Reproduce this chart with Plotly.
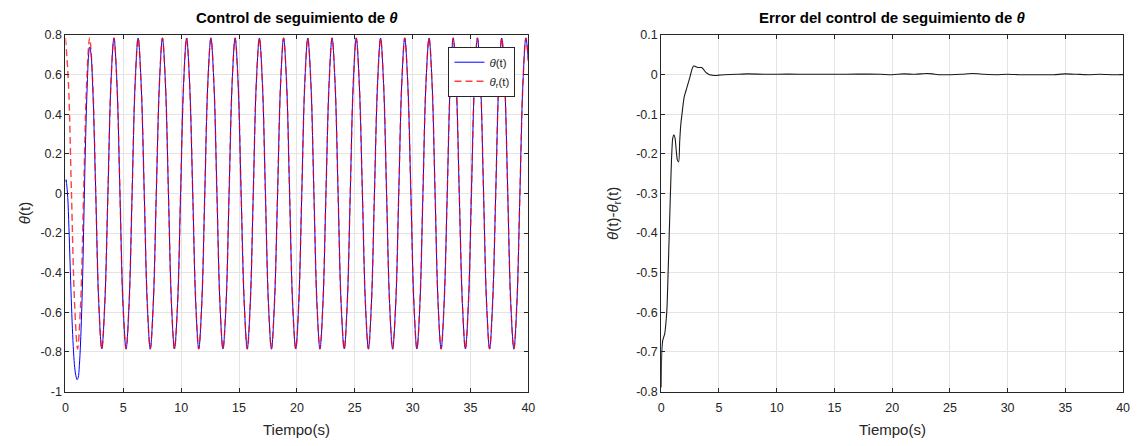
import plotly.graph_objects as go

# ---------------- data ----------------
# reference trajectory theta_r(t), sampled along the curve
theta_r_t = [
    0.00, 0.26, 0.52, 0.79, 1.05, 1.31, 1.57, 1.83, 2.09, 2.36, 2.62, 2.88, 3.14, 3.40, 3.67, 3.93,
    4.19, 4.45, 4.71, 4.97, 5.24, 5.50, 5.76, 6.02, 6.28, 6.54, 6.81, 7.07, 7.33, 7.59, 7.85, 8.12,
    8.38, 8.64, 8.90, 9.16, 9.42, 9.69, 9.95, 10.21, 10.47, 10.73, 11.00, 11.26, 11.52, 11.78, 12.04, 12.30,
    12.57, 12.83, 13.09, 13.35, 13.61, 13.88, 14.14, 14.40, 14.66, 14.92, 15.18, 15.45, 15.71, 15.97, 16.23, 16.49,
    16.76, 17.02, 17.28, 17.54, 17.80, 18.06, 18.33, 18.59, 18.85, 19.11, 19.37, 19.63, 19.90, 20.16, 20.42, 20.68,
    20.94, 21.21, 21.47, 21.73, 21.99, 22.25, 22.51, 22.78, 23.04, 23.30, 23.56, 23.82, 24.09, 24.35, 24.61, 24.87,
    25.13, 25.39, 25.66, 25.92, 26.18, 26.44, 26.70, 26.97, 27.23, 27.49, 27.75, 28.01, 28.27, 28.54, 28.80, 29.06,
    29.32, 29.58, 29.85, 30.11, 30.37, 30.63, 30.89, 31.15, 31.42, 31.68, 31.94, 32.20, 32.46, 32.72, 32.99, 33.25,
    33.51, 33.77, 34.03, 34.30, 34.56, 34.82, 35.08, 35.34, 35.60, 35.87, 36.13, 36.39, 36.65, 36.91, 37.18, 37.44,
    37.70, 37.96, 38.22, 38.48, 38.75, 39.01, 39.27, 39.53, 39.79, 40.00,
]
theta_r = [
    0.785, 0.555, 0.0, -0.555, -0.785, -0.555, 0.0, 0.555, 0.785, 0.555, 0.0, -0.555, -0.785, -0.555, 0.0, 0.555,
    0.785, 0.555, 0.0, -0.555, -0.785, -0.555, 0.0, 0.555, 0.785, 0.555, 0.0, -0.555, -0.785, -0.555, 0.0, 0.555,
    0.785, 0.555, 0.0, -0.555, -0.785, -0.555, 0.0, 0.555, 0.785, 0.555, 0.0, -0.555, -0.785, -0.555, 0.0, 0.555,
    0.785, 0.555, 0.0, -0.555, -0.785, -0.555, 0.0, 0.555, 0.785, 0.555, 0.0, -0.555, -0.785, -0.555, 0.0, 0.555,
    0.785, 0.555, 0.0, -0.555, -0.785, -0.555, 0.0, 0.555, 0.785, 0.555, 0.0, -0.555, -0.785, -0.555, 0.0, 0.555,
    0.785, 0.555, 0.0, -0.555, -0.785, -0.555, 0.0, 0.555, 0.785, 0.555, 0.0, -0.555, -0.785, -0.555, 0.0, 0.555,
    0.785, 0.555, 0.0, -0.555, -0.785, -0.555, 0.0, 0.555, 0.785, 0.555, 0.0, -0.555, -0.785, -0.555, 0.0, 0.555,
    0.785, 0.555, 0.0, -0.555, -0.785, -0.555, 0.0, 0.555, 0.785, 0.555, 0.0, -0.555, -0.785, -0.555, 0.0, 0.555,
    0.785, 0.555, 0.0, -0.555, -0.785, -0.555, 0.0, 0.555, 0.785, 0.555, 0.0, -0.555, -0.785, -0.555, 0.0, 0.555,
    0.785, 0.555, 0.0, -0.555, -0.785, -0.555, 0.0, 0.555, 0.785, 0.67,
]

# measured output theta(t): start-up transient, then it rides on the reference
theta_start_t = [0.0, 0.05, 0.1, 0.2, 0.3, 0.4, 0.5, 0.6, 0.7, 0.8, 0.9, 1.0, 1.1, 1.2,
                 1.3, 1.4, 1.5, 1.6, 1.7, 1.8, 1.9, 2.0, 2.09, 2.2, 2.36]
theta_start = [0.06, 0.07, 0.05, -0.02, -0.17, -0.35, -0.53, -0.68, -0.80, -0.88, -0.92, -0.94, -0.93, -0.87,
               -0.76, -0.60, -0.385, -0.10, 0.17, 0.40, 0.575, 0.70, 0.74, 0.71, 0.535]
settle_index = 10  # from t = 2.62 s the output coincides with the reference
theta_t = theta_start_t + theta_r_t[settle_index:]
theta = theta_start + theta_r[settle_index:]

# tracking error theta(t) - theta_r(t)
err_t = [0.0, 0.05, 0.14, 0.3, 0.4, 0.5, 0.6, 0.7, 0.8, 0.9, 1.0, 1.1, 1.2, 1.3, 1.4, 1.52, 1.6, 1.7,
         1.8, 1.9, 2.0, 2.1, 2.2, 2.35, 2.5, 2.65, 2.8, 2.95, 3.1, 3.3, 3.5, 3.65, 3.8, 4.0, 4.2, 4.4,
         4.6, 4.8, 5.0, 5.5, 6.5, 7.5, 9.0, 11.0, 13.0, 15.0, 17.0, 19.0, 20.0, 21.0, 22.0, 23.0, 23.5,
         24.0, 25.0, 26.0, 27.0, 28.0, 29.0, 30.0, 31.0, 32.0, 33.0, 34.0, 35.0, 36.0, 37.0, 38.0, 39.0, 40.0]
err = [-0.79, -0.70, -0.67, -0.655, -0.63, -0.59, -0.50, -0.40, -0.30, -0.21, -0.16, -0.152, -0.16, -0.19,
       -0.215, -0.22, -0.17, -0.125, -0.10, -0.075, -0.055, -0.045, -0.035, -0.02, -0.005, 0.012, 0.022, 0.021,
       0.019, 0.018, 0.018, 0.014, 0.008, 0.003, 0.0, -0.001, -0.002, -0.002, -0.001, 0.0, 0.001, 0.002, 0.001,
       0.0015, 0.001, 0.001, 0.0015, 0.001, 0.0, 0.002, 0.001, 0.003, 0.002, 0.0, 0.0, 0.001, 0.003, 0.001, 0.0,
       0.001, 0.0, 0.0, 0.0, 0.0, 0.002, 0.001, 0.0, 0.001, 0.0, 0.0]

# axis ticks
x_ticks = [0, 5, 10, 15, 20, 25, 30, 35, 40]
x_labels = ["0", "5", "10", "15", "20", "25", "30", "35", "40"]
y1_ticks = [-1, -0.8, -0.6, -0.4, -0.2, 0, 0.2, 0.4, 0.6, 0.8]
y1_labels = ["-1", "-0.8", "-0.6", "-0.4", "-0.2", "0", "0.2", "0.4", "0.6", "0.8"]
y2_ticks = [-0.8, -0.7, -0.6, -0.5, -0.4, -0.3, -0.2, -0.1, 0, 0.1]
y2_labels = ["-0.8", "-0.7", "-0.6", "-0.5", "-0.4", "-0.3", "-0.2", "-0.1", "0", "0.1"]

# ---------------- figure ----------------
W, H = 1142, 446
FONT = "Liberation Sans, Arial, Helvetica, sans-serif"
AX = "#262626"
GRID = "#e4e4e4"

fig = go.Figure()
fig.add_trace(go.Scatter(x=theta_t, y=theta, mode="lines", name="<i>θ</i>(t)",
                         line=dict(color="#0000ff", width=1.0, shape="spline", smoothing=1.0),
                         xaxis="x", yaxis="y"))
fig.add_trace(go.Scatter(x=theta_r_t, y=theta_r, mode="lines", name="<i>θ</i><sub>r</sub>(t)",
                         line=dict(color="#ff0000", width=1.4, dash="7px,4px", shape="spline", smoothing=1.0),
                         opacity=0.75, xaxis="x", yaxis="y"))
fig.add_trace(go.Scatter(x=err_t, y=err, mode="lines", showlegend=False,
                         line=dict(color="#1a1a1a", width=1.1, shape="spline", smoothing=0.6),
                         xaxis="x2", yaxis="y2"))

def px_x(p):
    return p / W

def px_y(p):
    return 1 - p / H

left_dom = [px_x(63), px_x(530)]
right_dom = [px_x(664), px_x(1130)]
y_dom = [px_y(397), px_y(29)]

common = dict(showline=True, linecolor=AX, linewidth=1, mirror="ticks", ticks="inside",
              ticklen=4, tickcolor=AX, showgrid=True, gridcolor=GRID, gridwidth=1,
              zeroline=False, tickfont=dict(family=FONT, size=12.5, color=AX))

fig.update_layout(
    width=W, height=H,
    margin=dict(l=0, r=0, t=0, b=0),
    paper_bgcolor="white", plot_bgcolor="white",
    xaxis=dict(domain=left_dom, range=[0, 40], tickvals=x_ticks, ticktext=x_labels,
               anchor="y", ticklabelstandoff=4, **common),
    yaxis=dict(domain=y_dom, range=[-1, 0.8], tickvals=y1_ticks, ticktext=y1_labels,
               anchor="x", **common),
    xaxis2=dict(domain=right_dom, range=[0, 40], tickvals=x_ticks, ticktext=x_labels,
                anchor="y2", ticklabelstandoff=4, **common),
    yaxis2=dict(domain=y_dom, range=[-0.8, 0.1], tickvals=y2_ticks, ticktext=y2_labels,
                anchor="x2", **common),
    legend=dict(x=px_x(517), y=px_y(41), xanchor="right", yanchor="top",
                bgcolor="white", bordercolor=AX, borderwidth=1,
                font=dict(family=FONT, size=11.5, color=AX), tracegroupgap=0,
                itemwidth=30),
    showlegend=True,
)

annotations = [
    dict(text="<b>Control de seguimiento de <i>θ</i></b>", x=px_x(296.5), y=px_y(11)),
    dict(text="<b>Error del control de seguimiento de <i>θ</i></b>", x=px_x(897), y=px_y(11)),
]
for a in annotations:
    fig.add_annotation(xref="paper", yref="paper", showarrow=False, xanchor="center", yanchor="middle",
                       font=dict(family=FONT, size=15, color="black"), **a)

labels = [
    dict(text="Tiempo(s)", x=px_x(296.5), y=px_y(436), textangle=0),
    dict(text="Tiempo(s)", x=px_x(897), y=px_y(436), textangle=0),
    dict(text="<i>θ</i>(t)", x=px_x(21), y=px_y(213), textangle=-90),
    dict(text="<i>θ</i>(t)-<i>θ</i><sub>r</sub>(t)", x=px_x(616), y=px_y(213), textangle=-90),
]
for a in labels:
    fig.add_annotation(xref="paper", yref="paper", showarrow=False, xanchor="center", yanchor="middle",
                       font=dict(family=FONT, size=15, color=AX), **a)

fig.write_html("out.html")
